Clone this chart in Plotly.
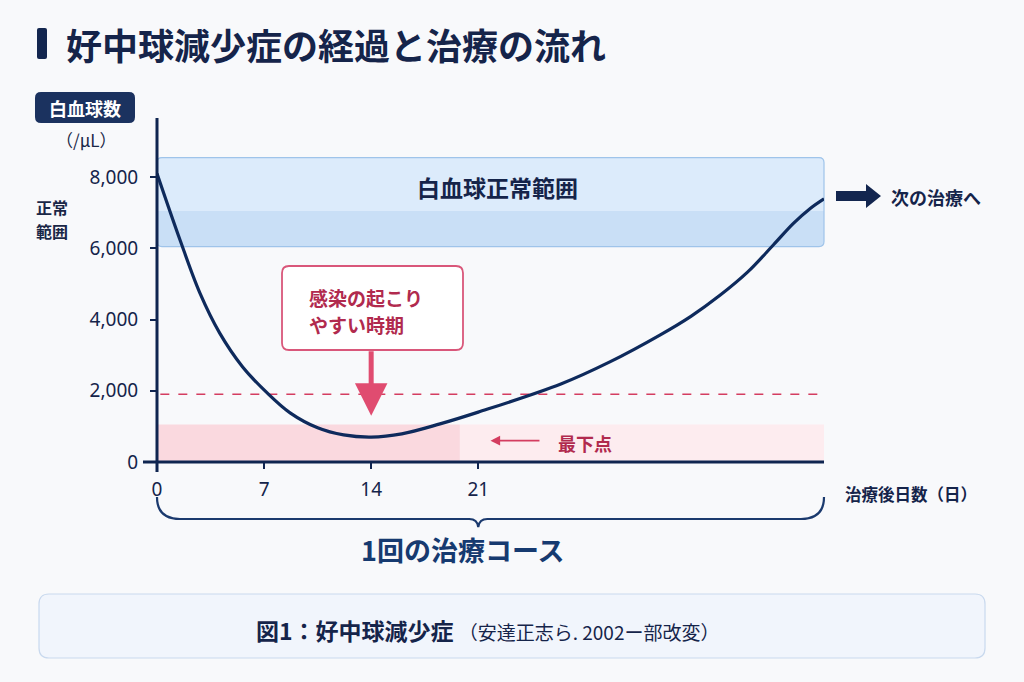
import plotly.graph_objects as go

# ---------------- data ----------------
days = [0, 1.5, 2.8, 4.1, 5.6, 7.2, 8.7, 10.5, 12.2, 14, 16, 18.5, 21,
        26.4, 29.6, 32.9, 34.9, 36.8, 38.6, 40.3, 41.6, 42.7, 43.6]
wbc = [8100, 6240, 4750, 3620, 2670, 1940, 1380, 960, 760, 700, 790, 1070, 1400,
       2190, 2810, 3570, 4090, 4680, 5330, 6100, 6700, 7120, 7390]

x_ticks = [0, 7, 14, 21]
y_ticks = [0, 2000, 4000, 6000, 8000]
y_ticklabels = ["0", "2,000", "4,000", "6,000", "8,000"]

normal_low, normal_high = 6050, 8550       # 白血球正常範囲
risk_line = 1900                           # dashed threshold
nadir_band_high = 1050                     # 最下点 band
nadir_day = 14
nadir_band_split_day = 19.8

X_MAX = 43.6
Y_MAX = 9660

FONT = "Noto Sans CJK JP"
TICKFONT = "Noto Sans, Noto Sans CJK JP"
NAVY = "#1a2747"
CURVE = "#0e2a5c"
RED = "#d43d60"
RED_TXT = "#b12a4e"

# ---------------- layout geometry ----------------
Wd, Hd = 1024, 682
L, T = 157, 118
PW, PH = 667, 344


def px(X):
    return (X - L) / PW


def py(Y):
    return (T + PH - Y) / PH


def dx(d):  # data x -> pixel
    return L + d / X_MAX * PW


def dy(v):  # data y -> pixel
    return T + PH - v / Y_MAX * PH


def P(X, Y):
    return f"{px(X):.5f},{py(Y):.5f}"


def rrect(x0, y0, x1, y1, r):
    return (f"M {P(x0 + r, y0)} L {P(x1 - r, y0)} Q {P(x1, y0)} {P(x1, y0 + r)} "
            f"L {P(x1, y1 - r)} Q {P(x1, y1)} {P(x1 - r, y1)} "
            f"L {P(x0 + r, y1)} Q {P(x0, y1)} {P(x0, y1 - r)} "
            f"L {P(x0, y0 + r)} Q {P(x0, y0)} {P(x0 + r, y0)} Z")


shapes = []


def add_path(path, fill=None, line_color=None, line_width=0, layer="below"):
    shapes.append(dict(type="path", path=path, xref="paper", yref="paper",
                       fillcolor=fill if fill else "rgba(0,0,0,0)",
                       line=dict(color=line_color if line_color else "rgba(0,0,0,0)",
                                 width=line_width),
                       layer=layer))


# caption box
add_path(rrect(39, 594, 985, 658, 10), fill="#f1f5fc", line_color="#c9d9ee", line_width=1.2)

# title bar
add_path(rrect(37, 28, 47, 59, 2), fill="#13264f")

# y-label box
add_path(rrect(35, 92, 135, 123, 6), fill="#1b325f")

# normal range band (two tones + outline)
bx0, bx1 = dx(0), dx(X_MAX)
by_top, by_bot = dy(normal_high), dy(normal_low)
split = by_top + (by_bot - by_top) * 0.6
add_path(rrect(bx0, by_top, bx1, by_bot, 5), fill="#c9dff6")
add_path(f"M {P(bx0 + 5, by_top)} L {P(bx1 - 5, by_top)} Q {P(bx1, by_top)} {P(bx1, by_top + 5)} "
         f"L {P(bx1, split)} L {P(bx0, split)} L {P(bx0, by_top + 5)} Q {P(bx0, by_top)} {P(bx0 + 5, by_top)} Z",
         fill="#dcebfb")
add_path(rrect(bx0, by_top, bx1, by_bot, 5), line_color="#9fc4ea", line_width=1.2)

# nadir band
add_path(f"M {P(dx(0), dy(nadir_band_high))} L {P(dx(nadir_band_split_day), dy(nadir_band_high))} "
         f"L {P(dx(nadir_band_split_day), dy(0))} L {P(dx(0), dy(0))} Z", fill="#fad9df")
add_path(f"M {P(dx(nadir_band_split_day), dy(nadir_band_high))} L {P(dx(X_MAX), dy(nadir_band_high))} "
         f"L {P(dx(X_MAX), dy(0))} L {P(dx(nadir_band_split_day), dy(0))} Z", fill="#fdecef")

# dashed risk line
shapes.append(dict(type="line", xref="paper", yref="y", x0=0.005, x1=1, y0=risk_line, y1=risk_line,
                   line=dict(color=RED, width=1.5, dash="dash"), layer="below"))

# callout box
add_path(rrect(282, 266, 463, 350, 7), fill="#ffffff", line_color="#d9577a", line_width=1.8, layer="above")

# axes lines
add_path(f"M {P(143, 462)} L {P(824, 462)}", line_color="#0f2550", line_width=3, layer="above")
add_path(f"M {P(157, 118)} L {P(157, 472)}", line_color="#0f2550", line_width=3, layer="above")

# brace
cx = dx(21)
brace = (f"M {P(157, 497)} Q {P(157, 519)} {P(180, 519)} L {P(cx - 9, 519)} "
         f"Q {P(cx - 1, 519)} {P(cx, 527)} Q {P(cx + 1, 519)} {P(cx + 9, 519)} "
         f"L {P(801, 519)} Q {P(824, 519)} {P(824, 497)}")
add_path(brace, line_color="#1b3a6e", line_width=2.2, layer="above")

# next-treatment arrow
add_path(f"M {P(836, 191)} L {P(866, 191)} L {P(866, 184)} L {P(881, 196)} L {P(866, 208)} "
         f"L {P(866, 201)} L {P(836, 201)} Z", fill="#13264f", layer="above")

fig = go.Figure()
fig.add_trace(go.Scatter(x=days, y=wbc, mode="lines",
                         line=dict(color=CURVE, width=3.2, shape="spline", smoothing=1.0),
                         hoverinfo="skip", showlegend=False, cliponaxis=False))

ann = []


def text(X, Y, s, size, color=NAVY, xanchor="center", bold=False, align="center"):
    ann.append(dict(x=px(X), y=py(Y), xref="paper", yref="paper", text=f"<b>{s}</b>" if bold else s,
                    showarrow=False, xanchor=xanchor, yanchor="middle", align=align,
                    font=dict(family=FONT, size=size, color=color)))


text(64, 44, "好中球減少症の経過と治療の流れ", 36, color="#15244a", xanchor="left", bold=True)
text(85, 108, "白血球数", 18, color="#ffffff", bold=True)
text(86, 139, "（/μL）", 17, color=NAVY)
text(52, 207, "正常", 16, color=NAVY, bold=True)
text(52, 231, "範囲", 16, color=NAVY, bold=True)
text(dx(X_MAX / 2) + 7, dy(7720), "白血球正常範囲", 23, color="#15244a", bold=True)
text(307, 297, "感染の起こり", 19, color=RED_TXT, xanchor="left", bold=True)
text(307, 324, "やすい時期", 19, color=RED_TXT, xanchor="left", bold=True)
text(585, 443, "最下点", 18, color=RED_TXT, bold=True)
text(889, 197, "次の治療へ", 18, color="#15244a", xanchor="left", bold=True)
text(911, 494, "治療後日数（日）", 16.5, color="#15244a", bold=True)
text(463, 549, "1回の治療コース", 27, color="#163a70", bold=True)
text(487, 630, "<b>図1：好中球減少症</b> <span style='font-size:19px'>（安達正志ら. 2002ー部改変）</span>",
     23, color="#15244a")

# arrows
ann.append(dict(x=nadir_day, y=1300, ax=nadir_day, ay=3150, xref="x", yref="y", axref="x", ayref="y",
                text="", showarrow=True, arrowhead=2, arrowsize=1.3, arrowwidth=5, arrowcolor="#e04c70"))
ann.append(dict(x=21.8, y=600, ax=25.1, ay=600, xref="x", yref="y", axref="x", ayref="y",
                text="", showarrow=True, arrowhead=2, arrowsize=1.2, arrowwidth=1.6, arrowcolor=RED))

fig.update_layout(
    width=Wd, height=Hd, autosize=False,
    margin=dict(l=L, r=Wd - L - PW, t=T, b=Hd - T - PH, pad=0),
    paper_bgcolor="#f8f9fb", plot_bgcolor="rgba(0,0,0,0)",
    shapes=shapes, annotations=ann, showlegend=False,
    font=dict(family=FONT, color=NAVY),
    xaxis=dict(range=[0, X_MAX], tickvals=x_ticks, showgrid=False, zeroline=False, showline=False,
               ticks="outside", ticklen=6, tickwidth=1.5, tickcolor="#0f2550", ticklabelstandoff=4,
               tickfont=dict(family=TICKFONT, size=19, color="#15244a"), fixedrange=True),
    yaxis=dict(range=[0, Y_MAX], tickvals=y_ticks, ticktext=y_ticklabels, showgrid=False,
               zeroline=False, showline=False, ticks="outside", ticklen=6, tickwidth=1.5,
               tickcolor="#0f2550", ticklabelstandoff=8,
               tickfont=dict(family=TICKFONT, size=19, color="#15244a"), fixedrange=True),
)

fig.write_html("out.html", config=dict(displayModeBar=False))
